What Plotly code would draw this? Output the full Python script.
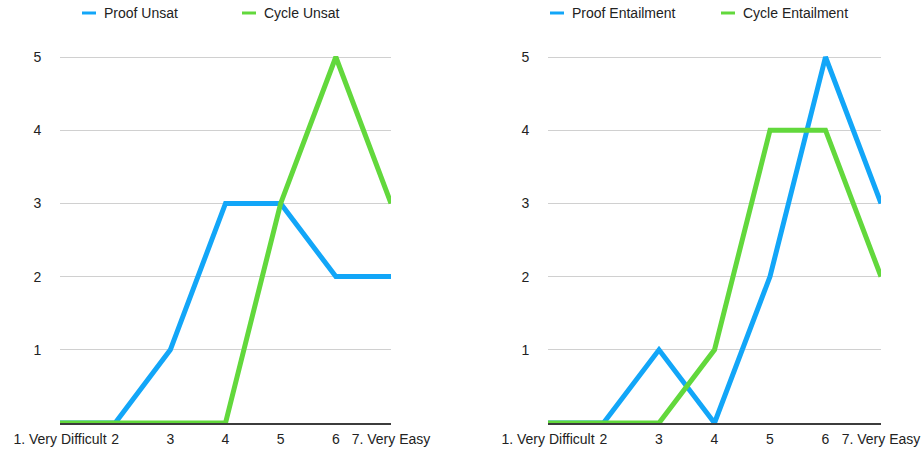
import plotly.graph_objects as go

# Difficulty rating scale (x categories)
ratings = ["1. Very Difficult", "2", "3", "4", "5", "6", "7. Very Easy"]
ytick_vals = [1, 2, 3, 4, 5]

# Left panel: unsatisfiability tasks
left_names = ["Proof Unsat", "Cycle Unsat"]
proof_unsat = [0, 0, 1, 3, 3, 2, 2]
cycle_unsat = [0, 0, 0, 0, 3, 5, 3]

# Right panel: entailment tasks
right_names = ["Proof Entailment", "Cycle Entailment"]
proof_entail = [0, 0, 1, 0, 2, 5, 3]
cycle_entail = [0, 0, 0, 1, 4, 4, 2]

BLUE = "#12A6F8"
GREEN = "#62D83C"
colors = [BLUE, GREEN]
FONT = "Liberation Sans, Arial, Helvetica, sans-serif"

W, H = 923, 454
xpos = list(range(len(ratings)))

fig = go.Figure()

panels = [
    ("x", "y", [proof_unsat, cycle_unsat], left_names),
    ("x2", "y2", [proof_entail, cycle_entail], right_names),
]
for xa, ya, series, names in panels:
    for vals, name, col in zip(series, names, colors):
        fig.add_trace(go.Scatter(
            x=xpos, y=vals, mode="lines", name=name,
            line=dict(color=col, width=5, shape="linear"),
            xaxis=xa, yaxis=ya, showlegend=False, cliponaxis=False,
        ))

# panel geometry in pixels
left_px = (60, 391)
right_px = (548, 881)
y_bottom_px, y_top_px = 423, 50

def xdom(px):
    return [px[0] / W, px[1] / W]

ydom = [(H - y_bottom_px) / H, (H - y_top_px) / H]
ymax = 5 * (y_bottom_px - y_top_px) / (423 - 57)

axis_common = dict(
    range=[0, 6], tickmode="array", tickvals=xpos, ticktext=ratings,
    showgrid=False, zeroline=False, showline=True, linecolor="#3c3c3c",
    linewidth=2, ticks="outside", ticklen=2, tickcolor="rgba(0,0,0,0)",
    tickfont=dict(family=FONT, size=14, color="#222"), automargin=False,
)
yaxis_common = dict(
    range=[0, ymax], tickmode="array", tickvals=ytick_vals,
    showgrid=True, gridcolor="#d0d0d0", gridwidth=1, zeroline=False,
    ticks="outside", ticklen=15, tickcolor="rgba(0,0,0,0)",
    tickfont=dict(family=FONT, size=14, color="#222"), showline=False,
    automargin=False,
)

fig.update_layout(
    width=W, height=H,
    margin=dict(l=0, r=0, t=0, b=0),
    paper_bgcolor="white", plot_bgcolor="white",
    showlegend=False,
    xaxis=dict(domain=xdom(left_px), anchor="y", **axis_common),
    yaxis=dict(domain=ydom, anchor="x", **yaxis_common),
    xaxis2=dict(domain=xdom(right_px), anchor="y2", **axis_common),
    yaxis2=dict(domain=ydom, anchor="x2", **yaxis_common),
)

# Legends drawn as short line swatches with labels above each panel
legend_y = 1 - 13 / H
legend_layout = [
    (left_names, [82, 242]),
    (right_names, [550, 721]),
]
for names, starts in legend_layout:
    for name, x0, col in zip(names, starts, colors):
        fig.add_shape(
            type="line", xref="paper", yref="paper",
            x0=x0 / W, x1=(x0 + 14) / W, y0=legend_y, y1=legend_y,
            line=dict(color=col, width=3),
        )
        fig.add_annotation(
            text=name, xref="paper", yref="paper",
            x=(x0 + 20) / W, y=legend_y, xanchor="left", yanchor="middle",
            showarrow=False, font=dict(family=FONT, size=14, color="#222"),
        )

fig.write_html("out.html")
